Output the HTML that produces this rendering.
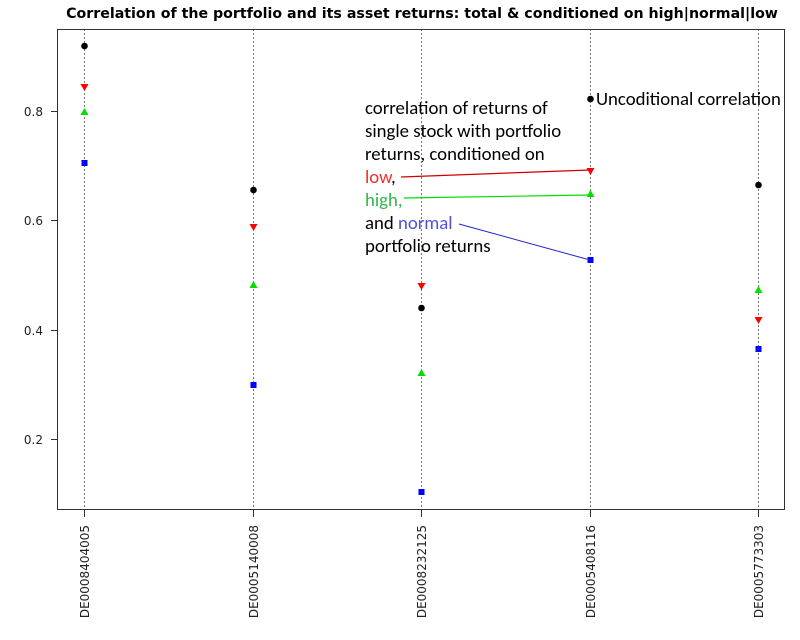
<!DOCTYPE html>
<html><head><meta charset="utf-8"><style>body{margin:0;background:#fff}</style></head><body>
<svg width="800" height="640" xmlns="http://www.w3.org/2000/svg" style="display:block">
<rect width="800" height="640" fill="#fff"/>
<text x="422" y="18" text-anchor="middle" font-family="DejaVu Sans, sans-serif" font-weight="bold" font-size="14.2">Correlation of the portfolio and its asset returns: total &amp; conditioned on high|normal|low</text>
<g stroke="#777" stroke-dasharray="2,2" stroke-width="1">
<line x1="84.5" y1="29" x2="84.5" y2="510"/><line x1="253.5" y1="29" x2="253.5" y2="510"/><line x1="421.5" y1="29" x2="421.5" y2="510"/><line x1="590.5" y1="29" x2="590.5" y2="510"/><line x1="758.5" y1="29" x2="758.5" y2="510"/>
</g>
<rect x="57.5" y="29.5" width="727" height="480" fill="none" stroke="#333" stroke-width="1"/>
<g stroke="#333"><line x1="51" y1="111.5" x2="57" y2="111.5"/><line x1="51" y1="220.5" x2="57" y2="220.5"/><line x1="51" y1="330.5" x2="57" y2="330.5"/><line x1="51" y1="439.5" x2="57" y2="439.5"/>
<line x1="84.5" y1="510" x2="84.5" y2="517"/><line x1="253.5" y1="510" x2="253.5" y2="517"/><line x1="421.5" y1="510" x2="421.5" y2="517"/><line x1="590.5" y1="510" x2="590.5" y2="517"/><line x1="758.5" y1="510" x2="758.5" y2="517"/></g>
<g font-family="DejaVu Sans, sans-serif" font-size="12" fill="#222" text-anchor="end">
<text x="43" y="116">0.8</text><text x="43" y="225">0.6</text><text x="43" y="335">0.4</text><text x="43" y="444">0.2</text>
<text transform="translate(89,525) rotate(-90)" >DE0008404005</text>
<text transform="translate(258,525) rotate(-90)">DE0005140008</text>
<text transform="translate(426,525) rotate(-90)">DE0008232125</text>
<text transform="translate(595,525) rotate(-90)">DE0005408116</text>
<text transform="translate(763,525) rotate(-90)">DE0005773303</text>
</g>
<g fill="#000"><circle cx="84.5" cy="46" r="3.3"/><circle cx="253.5" cy="190" r="3.3"/><circle cx="421.5" cy="308" r="3.3"/><circle cx="590.5" cy="99" r="3.3"/><circle cx="758.5" cy="185" r="3.3"/></g>
<g fill="#f00"><path d="M80.5,84 h8 l-4,7z"/><path d="M249.5,224 h8 l-4,7z"/><path d="M417.5,283 h8 l-4,7z"/><path d="M586.5,168 h8 l-4,7z"/><path d="M754.5,317 h8 l-4,7z"/></g>
<g fill="#0d0"><path d="M80.5,115 h8 l-4,-7z"/><path d="M249.5,288 h8 l-4,-7z"/><path d="M417.5,376 h8 l-4,-7z"/><path d="M586.5,197 h8 l-4,-7z"/><path d="M754.5,293 h8 l-4,-7z"/></g>
<g fill="#00f"><rect x="81.5" y="160" width="6" height="6"/><rect x="250.5" y="382" width="6" height="6"/><rect x="418.5" y="489" width="6" height="6"/><rect x="587.5" y="257" width="6" height="6"/><rect x="755.5" y="346" width="6" height="6"/></g>
<line x1="401" y1="177" x2="590" y2="170" stroke="#c00" stroke-width="1.2"/>
<line x1="404" y1="198" x2="590" y2="195" stroke="#0d0" stroke-width="1.2"/>
<line x1="459" y1="224" x2="590" y2="260" stroke="#22c" stroke-width="1"/>
<g font-family="Carlito, Liberation Sans, sans-serif" font-size="18.8" fill="#000">
<text x="365" y="114">correlation of returns of</text>
<text x="365" y="137">single stock with portfolio</text>
<text x="365" y="160">returns, conditioned on</text>
<text x="365" y="183"><tspan fill="#f03030">low</tspan>,</text>
<text x="365" y="206" fill="#30b848">high,</text>
<text x="365" y="229">and <tspan fill="#5050e0">normal</tspan></text>
<text x="365" y="252">portfolio returns</text>
<text x="596" y="105">Uncoditional correlation</text>
</g>
</svg>
</body></html>
